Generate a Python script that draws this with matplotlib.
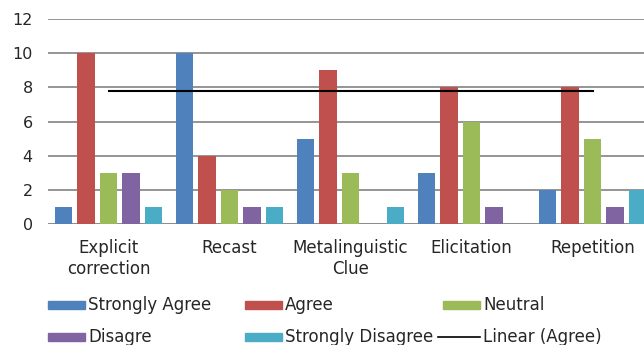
import numpy as np
import matplotlib.pyplot as plt
from matplotlib.patches import Rectangle
from matplotlib.lines import Line2D

categories = ['Explicit\ncorrection', 'Recast', 'Metalinguistic\nClue', 'Elicitation', 'Repetition']
series = ['Strongly Agree', 'Agree', 'Neutral', 'Disagre', 'Strongly Disagree']
strongly_agree = [1, 10, 5, 3, 2]
agree = [10, 4, 9, 8, 8]
neutral = [3, 2, 3, 6, 5]
disagree = [3, 1, 0, 1, 1]
strongly_disagree = [1, 1, 1, 0, 2]

colors = ['#4F81BD', '#C0504D', '#9BBB59', '#8064A2', '#4BACC6']
values = [strongly_agree, agree, neutral, disagree, strongly_disagree]
txt_color = '#262626'

fig = plt.figure(figsize=(6.44, 3.45), dpi=100)
ax = fig.add_axes([48/644, 121/345, 596/644, 205/345])

x = np.arange(len(categories))
bw = 0.148
step = 0.186
for i, (vals, c) in enumerate(zip(values, colors)):
    ax.bar(x + (i - 2) * step, vals, width=bw, color=c, zorder=3)

# linear trend of the Agree series
coef = np.polyfit(x + 1, agree, 1)
trend = np.polyval(coef, x + 1)
ax.plot(x, trend, color='black', lw=1.5, zorder=4)

ax.set_ylim(0, 12)
ax.set_xlim(-0.5, -0.5 + 596/121)
ax.set_yticks(range(0, 13, 2))
ax.yaxis.grid(True, color='#8c8c8c', lw=1.3, zorder=0)
for s in ax.spines.values():
    s.set_visible(False)
ax.axhline(0, color='#8c8c8c', lw=1.3, zorder=2)
ax.set_xticks(x)
ax.set_xticklabels(categories, fontsize=12, color=txt_color, linespacing=1.27)
ax.tick_params(axis='both', length=0)
ax.tick_params(axis='x', pad=10.5)
ax.tick_params(axis='y', pad=11, labelsize=11.5, labelcolor=txt_color)

# legend drawn by hand in figure pixels
def px(xp, yp):
    return xp / 644, 1 - yp / 345

items = [
    (48, 305, colors[0], series[0]),
    (245, 305, colors[1], series[1]),
    (443, 305, colors[2], series[2]),
    (48, 337, colors[3], series[3]),
    (245, 337, colors[4], series[4]),
]
for xp, yp, c, label in items:
    x0, y0 = px(xp, yp + 4)
    fig.add_artist(Rectangle((x0, y0), 37/644, 8/345, color=c,
                             transform=fig.transFigure))
    tx, ty = px(xp + 40, yp)
    fig.text(tx, ty, label, fontsize=12, va='center', ha='left', color=txt_color)

lx0, ly = px(438, 337)
lx1, _ = px(480, 337)
fig.add_artist(Line2D([lx0, lx1], [ly, ly], color='black', lw=1.2,
                      transform=fig.transFigure))
tx, ty = px(483, 337)
fig.text(tx, ty, 'Linear (Agree)', fontsize=12, va='center', ha='left', color=txt_color)

fig.savefig('out.png', dpi=100)
